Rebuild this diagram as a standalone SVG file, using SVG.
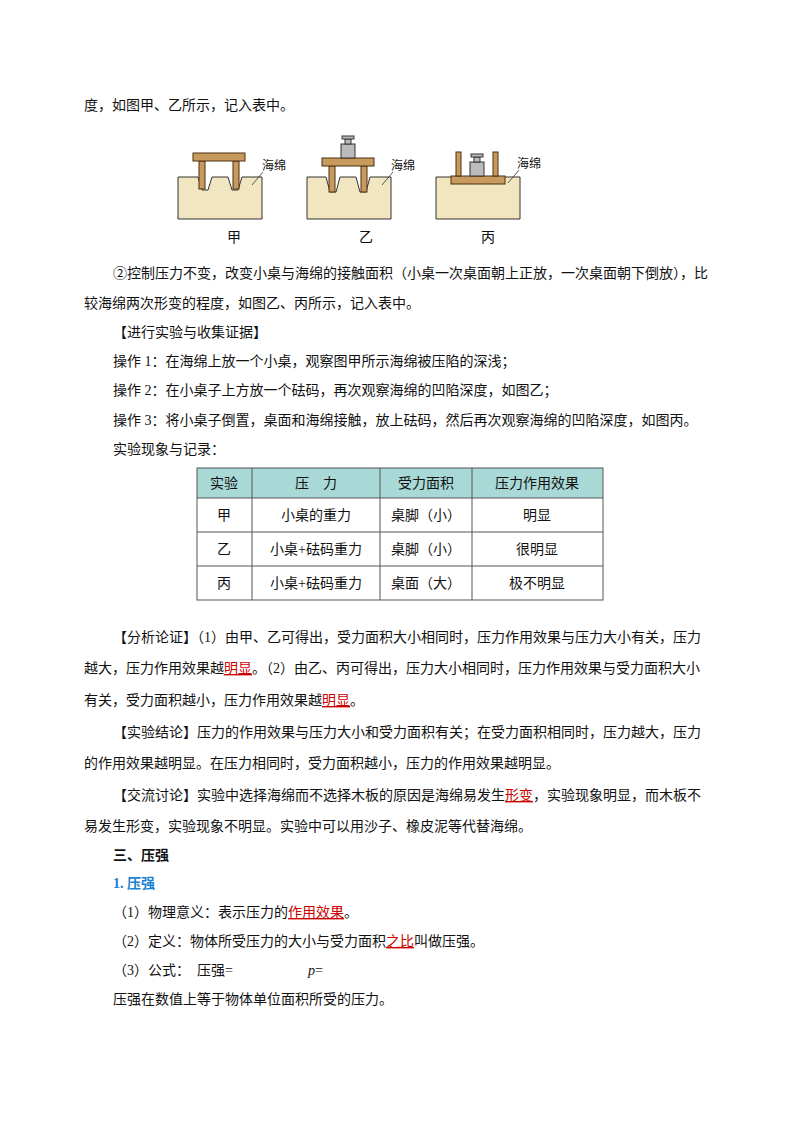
<svg xmlns="http://www.w3.org/2000/svg" width="800" height="1132" viewBox="0 0 800 1132">
<style>
text{font-family:"Liberation Serif","Noto Sans CJK SC",serif;font-size:14px;fill:#111}
.r{fill:#c00}
.b{font-weight:bold}
.bl{fill:#1a7fd0;font-weight:bold}
.sp{fill:#f1e6c0;stroke:#333;stroke-width:1}
.wd{fill:#c99a5e;stroke:#4a3010;stroke-width:1}
.wt{fill:#bbb;stroke:#333;stroke-width:1}
.c{text-anchor:middle}
.g{stroke:#333;stroke-width:0.8;fill:none}
.sm{font-size:12px}
</style>
<rect width="800" height="1132" fill="#fff"/>
<text x="84" y="110">度，如图甲、乙所示，记入表中。</text>
<g id="fig-jia">
<path class="sp" d="M178 177 H198 L202 190 H208 L212 177 H228 L232 190 H238 L242 177 H262 V219 H178 Z"/>
<rect class="wd" x="199" y="161" width="6" height="28"/>
<rect class="wd" x="233" y="161" width="6" height="28"/>
<rect class="wd" x="193" y="153" width="52" height="8"/>
<path class="g" d="M252 185 L263 172"/>
<text class="sm" x="262" y="170">海绵</text>
<text x="227" y="242">甲</text>
</g>
<g id="fig-yi">
<path class="sp" d="M307 177 H326 L330 192 H336 L340 177 H356 L360 192 H366 L370 177 H391 V219 H307 Z"/>
<rect class="wd" x="329" y="166" width="6" height="26"/>
<rect class="wd" x="361" y="166" width="6" height="26"/>
<rect class="wd" x="322" y="158" width="52" height="8"/>
<rect class="wt" x="341" y="144" width="14" height="14"/>
<rect class="wt" x="345" y="139" width="6" height="5"/>
<rect class="wt" x="342" y="136" width="12" height="3"/>
<path class="g" d="M382 185 L393 172"/>
<text class="sm" x="391" y="170">海绵</text>
<text x="359" y="242">乙</text>
</g>
<g id="fig-bing">
<path class="sp" d="M436 177 H452 V182 H504 V177 H520 V219 H436 Z"/>
<rect class="wd" x="451" y="176" width="54" height="8"/>
<rect class="wd" x="456" y="152" width="5" height="24"/>
<rect class="wd" x="493" y="152" width="5" height="24"/>
<rect class="wt" x="470" y="162" width="14" height="14"/>
<rect class="wt" x="474" y="157" width="6" height="5"/>
<rect class="wt" x="471" y="154" width="12" height="3"/>
<path class="g" d="M508 183 L519 170"/>
<text class="sm" x="517" y="168">海绵</text>
<text x="481" y="242">丙</text>
</g>
<text x="113" y="278">②控制压力不变，改变小桌与海绵的接触面积（小桌一次桌面朝上正放，一次桌面朝下倒放），比</text>
<text x="84" y="308">较海绵两次形变的程度，如图乙、丙所示，记入表中。</text>
<text x="113" y="337">【进行实验与收集证据】</text>
<text x="113" y="366">操作 1：在海绵上放一个小桌，观察图甲所示海绵被压陷的深浅；</text>
<text x="113" y="395">操作 2：在小桌子上方放一个砝码，再次观察海绵的凹陷深度，如图乙；</text>
<text x="113" y="425">操作 3：将小桌子倒置，桌面和海绵接触，放上砝码，然后再次观察海绵的凹陷深度，如图丙。</text>
<text x="113" y="454">实验现象与记录：</text>
<g id="table">
<rect x="197" y="468" width="406" height="30" fill="#a9d9d6"/>
<g stroke="#555" stroke-width="1" fill="none">
<rect x="197" y="468" width="406" height="132"/>
<path d="M197 498H603M197 532H603M197 566H603M252 468V600M380 468V600M472 468V600"/>
</g>
<g class="c">
<text class="c" x="224" y="488">实验</text><text class="c" x="316" y="488">压　力</text><text class="c" x="426" y="488">受力面积</text><text class="c" x="537" y="488">压力作用效果</text>
<text class="c" x="224" y="520">甲</text><text class="c" x="316" y="520">小桌的重力</text><text class="c" x="426" y="520">桌脚（小）</text><text class="c" x="537" y="520">明显</text>
<text class="c" x="224" y="554">乙</text><text class="c" x="316" y="554">小桌+砝码重力</text><text class="c" x="426" y="554">桌脚（小）</text><text class="c" x="537" y="554">很明显</text>
<text class="c" x="224" y="588">丙</text><text class="c" x="316" y="588">小桌+砝码重力</text><text class="c" x="426" y="588">桌面（大）</text><text class="c" x="537" y="588">极不明显</text>
</g>
</g>
<text x="113" y="642">【分析论证】（1）由甲、乙可得出，受力面积大小相同时，压力作用效果与压力大小有关，压力</text>
<text x="84" y="673">越大，压力作用效果越<tspan class="r" text-decoration="underline">明显</tspan>。（2）由乙、丙可得出，压力大小相同时，压力作用效果与受力面积大小</text>
<text x="84" y="705">有关，受力面积越小，压力作用效果越<tspan class="r" text-decoration="underline">明显</tspan>。</text>
<text x="113" y="737">【实验结论】压力的作用效果与压力大小和受力面积有关；在受力面积相同时，压力越大，压力</text>
<text x="84" y="768">的作用效果越明显。在压力相同时，受力面积越小，压力的作用效果越明显。</text>
<text x="113" y="800">【交流讨论】实验中选择海绵而不选择木板的原因是海绵易发生<tspan class="r" text-decoration="underline">形变</tspan>，实验现象明显，而木板不</text>
<text x="84" y="831">易发生形变，实验现象不明显。实验中可以用沙子、橡皮泥等代替海绵。</text>
<text class="b" x="113" y="860">三、压强</text>
<text class="bl" x="113" y="888">1. 压强</text>
<text x="113" y="917">（1）物理意义：表示压力的<tspan class="r" text-decoration="underline">作用效果</tspan>。</text>
<text x="113" y="946">（2）定义：物体所受压力的大小与受力面积<tspan class="r" text-decoration="underline">之比</tspan>叫做压强。</text>
<text x="113" y="975">（3）公式：　压强=</text>
<text x="308" y="975"><tspan font-style="italic">p</tspan>=</text>
<text x="113" y="1004">压强在数值上等于物体单位面积所受的压力。</text>
</svg>
